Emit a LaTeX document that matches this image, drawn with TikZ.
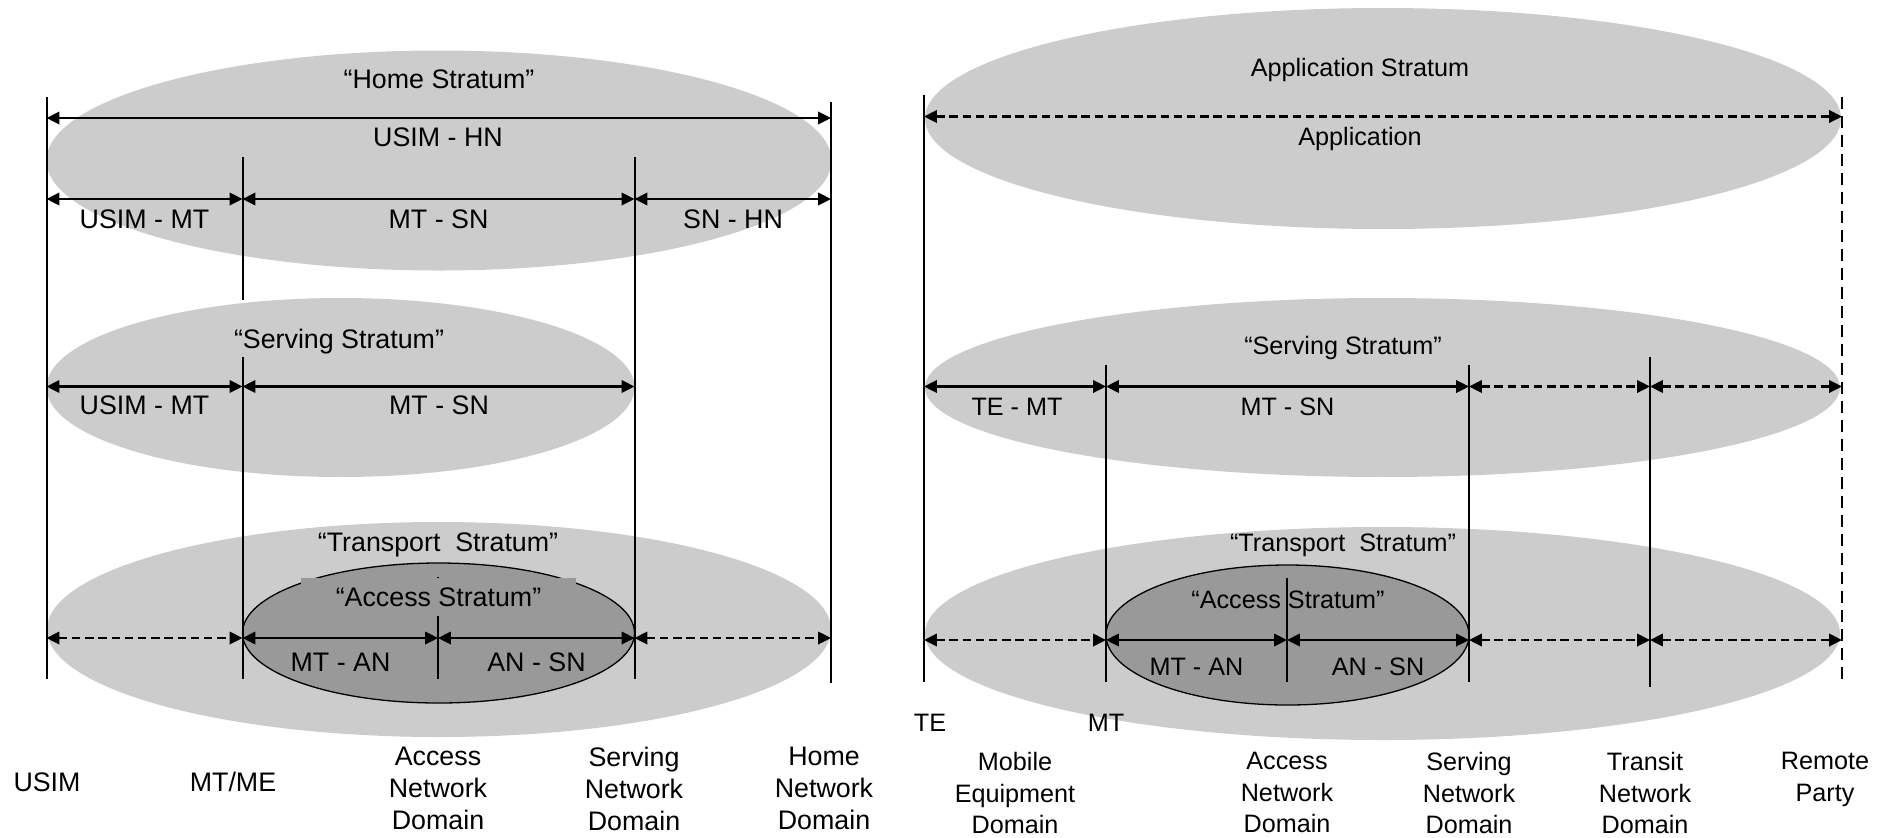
\documentclass[tikz,border=0pt]{standalone}
\usepackage{fontspec}
\setmainfont{Liberation Sans}
\usetikzlibrary{arrows.meta}
\definecolor{stratumgray}{HTML}{CCCCCC}
\definecolor{accessgray}{HTML}{999999}

\begin{document}
\begin{tikzpicture}[x=0.5pt,y=-0.5pt,
  stratumfill/.style={fill=stratumgray},
  accessfill/.style={fill=accessgray, draw=black, line width=0.65pt},
  domline/.style={line width=1pt},
  openline/.style={line width=1.35pt, dash pattern=on 6pt off 3.5pt},
  span/.style={line width=1.1pt,
    {Triangle[length=6.4pt,width=6.2pt]}-{Triangle[length=6.4pt,width=6.2pt]}},
  openspan/.style={span, dash pattern=on 4.2pt off 2.4pt},
  ltxt/.style={inner sep=0pt, font=\fontsize{13.4}{15.8}\selectfont,
    text height=9.6pt, text depth=0pt},
  rtxt/.style={inner sep=0pt, font=\fontsize{12.6}{15.8}\selectfont,
    text height=9pt, text depth=0pt},
  ldom/.style={inner sep=0pt, align=center, anchor=north,
    font=\fontsize{13.4}{15.8}\selectfont},
  rdom/.style={inner sep=0pt, align=center, anchor=north,
    font=\fontsize{12.6}{15.8}\selectfont}
]
\useasboundingbox (0,0) rectangle (1890,837);

% ---------------- strata (left: security architecture) ----------------
\fill[stratumfill] (439,160.5) ellipse [x radius=392.5, y radius=110];
\fill[stratumfill] (340.5,387.5) ellipse [x radius=294, y radius=89.5];
\fill[stratumfill] (439,629.5) ellipse [x radius=392, y radius=107.5];
\filldraw[accessfill] (438.5,633) ellipse [x radius=196, y radius=70];

% ---------------- strata (right: end-to-end architecture) ----------------
\fill[stratumfill] (1383,118.5) ellipse [x radius=458, y radius=110.5];
\fill[stratumfill] (1382.5,387.5) ellipse [x radius=457.5, y radius=89.5];
\fill[stratumfill] (1382.5,633.5) ellipse [x radius=457.5, y radius=106.5];
\filldraw[accessfill] (1287.5,635) ellipse [x radius=181.5, y radius=70];

% ---------------- domain boundaries, left ----------------
\coordinate (l1t) at (46.5,97);   \coordinate (l1b) at (46.5,679);
\coordinate (l2t) at (242.5,157); \coordinate (l2m) at (242.5,300);
\coordinate (l2u) at (242.5,357); \coordinate (l2b) at (242.5,679);
\coordinate (l3t) at (634.5,157); \coordinate (l3b) at (634.5,679);
\coordinate (l4t) at (831,102);   \coordinate (l4b) at (831,683);
\coordinate (lmt) at (438,577);   \coordinate (lmb) at (438,679);
\draw[domline] (l1t) -- (l1b);
\draw[domline] (l2t) -- (l2m);
\draw[domline] (l2u) -- (l2b);
\draw[domline] (l3t) -- (l3b);
\draw[domline] (l4t) -- (l4b);
\draw[domline] (lmt) -- (lmb);

% ---------------- domain boundaries, right ----------------
\coordinate (r1t) at (924,95);    \coordinate (r1b) at (924,682);
\coordinate (r2t) at (1106,365);  \coordinate (r2b) at (1106,682);
\coordinate (r3t) at (1469,365);  \coordinate (r3b) at (1469,682);
\coordinate (r4t) at (1650,357);  \coordinate (r4b) at (1650,687);
\coordinate (rmt) at (1287,578);  \coordinate (rmb) at (1287,682);
\coordinate (r5t) at (1842,97);   \coordinate (r5b) at (1842,680);
\draw[domline] (r1t) -- (r1b);
\draw[domline] (r2t) -- (r2b);
\draw[domline] (r3t) -- (r3b);
\draw[domline] (r4t) -- (r4b);
\draw[domline] (rmt) -- (rmb);
\draw[openline] (r5t) -- (r5b);

% ---------------- spans, left ----------------
\coordinate (la1) at (46.5,118);  \coordinate (la4) at (831,118);
\coordinate (lb1) at (46.5,199);  \coordinate (lb2) at (242.5,199);
\coordinate (lb3) at (634.5,199); \coordinate (lb4) at (831,199);
\coordinate (lc1) at (46.5,386.5); \coordinate (lc2) at (242.5,386.5);
\coordinate (lc3) at (634.5,386.5);
\coordinate (ld1) at (46.5,638);  \coordinate (ld2) at (242.5,638);
\coordinate (ldm) at (438,638);   \coordinate (ld3) at (634.5,638);
\coordinate (ld4) at (831,638);
\draw[span] (la1) -- (la4);
\draw[span] (lb1) -- (lb2);
\draw[span] (lb2) -- (lb3);
\draw[span] (lb3) -- (lb4);
\draw[span] (lc1) -- (lc2);
\draw[span] (lc2) -- (lc3);
\draw[openspan] (ld1) -- (ld2);
\draw[span] (ld2) -- (ldm);
\draw[span] (ldm) -- (ld3);
\draw[openspan] (ld3) -- (ld4);

% ---------------- spans, right ----------------
\coordinate (ra1) at (924,116.5); \coordinate (ra5) at (1842,116.5);
\coordinate (rc1) at (924,386.5); \coordinate (rc2) at (1106,386.5);
\coordinate (rc3) at (1469,386.5); \coordinate (rc4) at (1650,386.5);
\coordinate (rc5) at (1842,386.5);
\coordinate (rd1) at (924,640);   \coordinate (rd2) at (1106,640);
\coordinate (rdm) at (1287,640);  \coordinate (rd3) at (1469,640);
\coordinate (rd4) at (1650,640);  \coordinate (rd5) at (1842,640);
\draw[openspan] (ra1) -- (ra5);
\draw[span] (rc1) -- (rc2);
\draw[span] (rc2) -- (rc3);
\draw[openspan] (rc3) -- (rc4);
\draw[openspan] (rc4) -- (rc5);
\draw[openspan] (rd1) -- (rd2);
\draw[span] (rd2) -- (rdm);
\draw[span] (rdm) -- (rd3);
\draw[openspan] (rd3) -- (rd4);
\draw[openspan] (rd4) -- (rd5);

% ---------------- labels, left ----------------
\node[ltxt] (homeS) at (439,78.5) {“Home Stratum”};
\node[ltxt] (usimhn) at (438,137) {USIM - HN};
\node[ltxt] (usimmtA) at (144.5,219) {USIM - MT};
\node[ltxt] (mtsnA) at (438.5,219) {MT - SN};
\node[ltxt] (snhn) at (733,219) {SN - HN};
\node[ltxt] (servSL) at (339,339) {“Serving Stratum”};
\node[ltxt] (usimmtB) at (144.5,405) {USIM - MT};
\node[ltxt] (mtsnB) at (439,405) {MT - SN};
\node[ltxt] (transSL) at (438,542) {“Transport\ \ Stratum”};
\node[ltxt, fill=accessgray, minimum width=137.5pt, minimum height=19pt]
  (accSL) at (438.5,597) {“Access Stratum”};
\node[ltxt] (mtanL) at (340.5,661.5) {MT - AN};
\node[ltxt] (ansnL) at (536.5,661.5) {AN - SN};
\node[ltxt] (usim) at (47,782) {USIM};
\node[ltxt] (mtme) at (233,782) {MT/ME};
\node[ldom] (andL) at (438,747) {Access\\Network\\Domain};
\node[ldom] (sndL) at (634,747) {Serving\\Network\\Domain};
\node[ldom] (hnd) at (824,747) {Home\\Network\\Domain};

% ---------------- labels, right ----------------
\node[rtxt] (appS) at (1360,67.5) {Application Stratum};
\node[rtxt] (app) at (1360,136.5) {Application};
\node[rtxt] (servSR) at (1343,345.5) {“Serving Stratum”};
\node[rtxt] (temt) at (1017,406) {TE - MT};
\node[rtxt] (mtsnR) at (1287.5,406) {MT - SN};
\node[rtxt] (transSR) at (1343,542) {“Transport\ \ Stratum”};
\node[rtxt] (accSR) at (1288,599) {“Access Stratum”};
\node[rtxt] (mtanR) at (1196.5,666) {MT - AN};
\node[rtxt] (ansnR) at (1378,666) {AN - SN};
\node[rtxt] (te) at (930,722) {TE};
\node[rtxt] (mt) at (1106,722) {MT};
\node[rdom] (med) at (1015,752) {Mobile\\Equipment\\Domain};
\node[rdom] (andR) at (1287,752) {Access\\Network\\Domain};
\node[rdom] (sndR) at (1469,752) {Serving\\Network\\Domain};
\node[rdom] (tnd) at (1645,752) {Transit\\Network\\Domain};
\node[rdom] (rp) at (1825,752) {Remote\\Party};
\end{tikzpicture}
\end{document}
